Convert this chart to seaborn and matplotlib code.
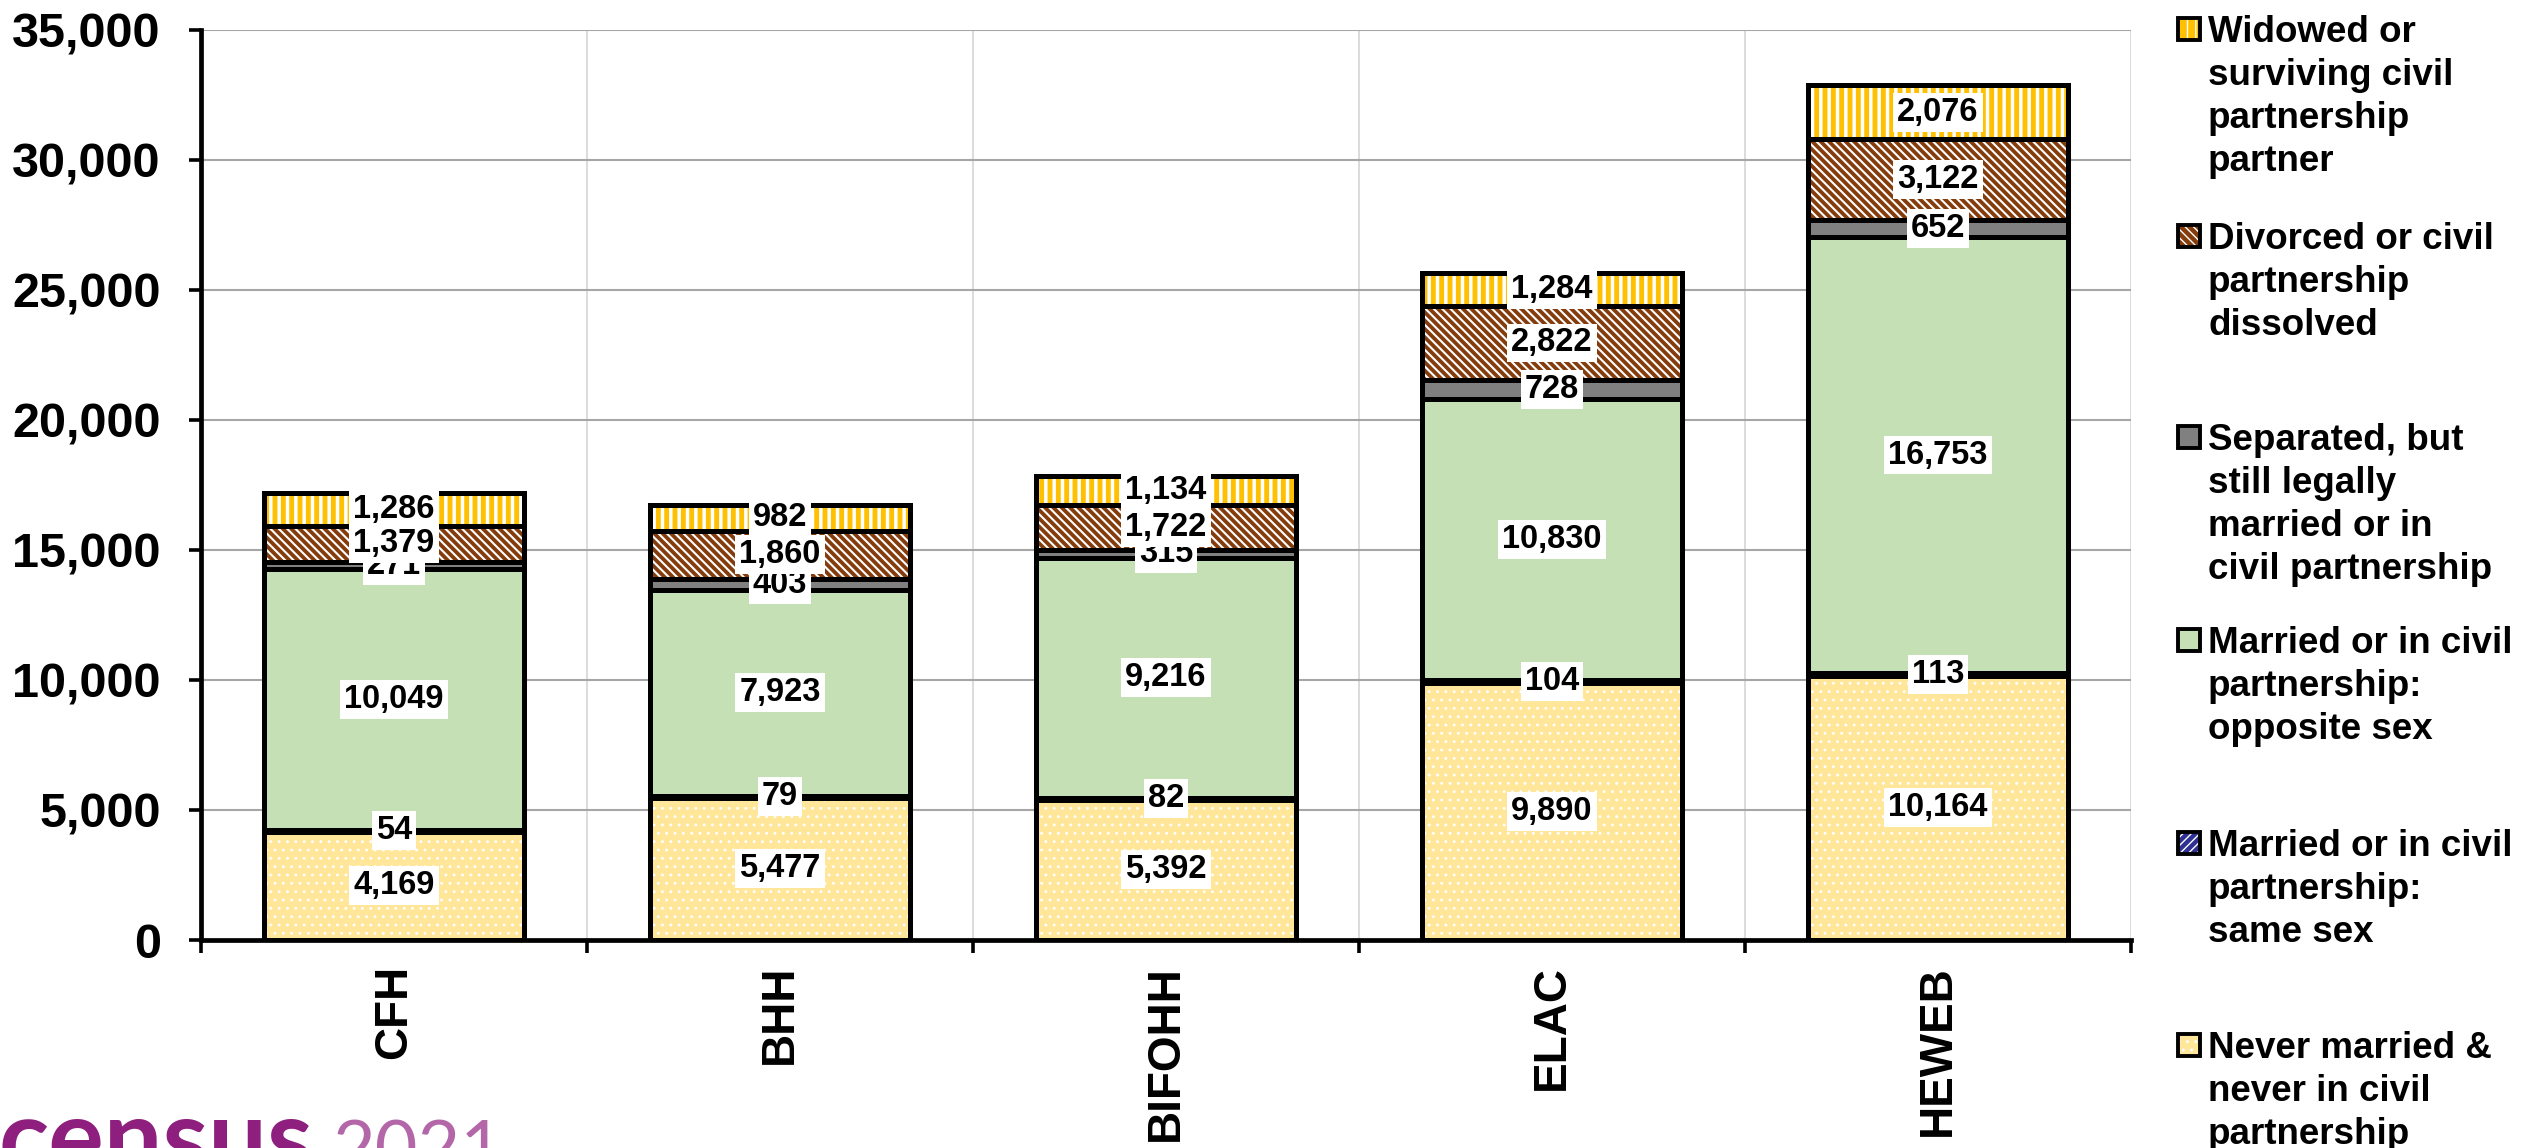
import numpy as np
import pandas as pd
import matplotlib
matplotlib.use("Agg")
import matplotlib.pyplot as plt
import seaborn as sns
from matplotlib.patches import Rectangle
from matplotlib.ticker import FuncFormatter

# ---------------- data ----------------
categories = ["CFH", "BHH", "BIFOHH", "ELAC", "HEWEB"]
never_married = [4169, 5477, 5392, 9890, 10164]
married_same_sex = [54, 79, 82, 104, 113]
married_opposite_sex = [10049, 7923, 9216, 10830, 16753]
separated = [271, 403, 315, 728, 652]
divorced = [1379, 1860, 1722, 2822, 3122]
widowed = [1286, 982, 1134, 1284, 2076]
series_labels = [
    "Never married &\nnever in civil\npartnership",
    "Married or in civil\npartnership:\nsame sex",
    "Married or in civil\npartnership:\nopposite sex",
    "Separated, but\nstill legally\nmarried or in\ncivil partnership",
    "Divorced or civil\npartnership\ndissolved",
    "Widowed or\nsurviving civil\npartnership\npartner",
]
y_ticks = [0, 5000, 10000, 15000, 20000, 25000, 30000, 35000]

series_values = [never_married, married_same_sex, married_opposite_sex,
                 separated, divorced, widowed]
# style per series: face colour, hatch, hatch colour, hatch linewidth
styles = [
    ("#FFE699", "..", "white", 0.9),
    ("#2E3192", "////", "white", 1.6),
    ("#C5E0B4", None, "#C5E0B4", 1.0),
    ("#808080", None, "#808080", 1.0),
    ("#843C0C", "\\\\\\\\", "white", 1.5),
    ("#FFC000", "||", "white", 2.5),
]

# ---------------- figure ----------------
sns.set_theme(style="white")
plt.rcParams["font.family"] = ["Liberation Sans", "DejaVu Sans"]
plt.rcParams["font.weight"] = "bold"

W, H = 2522, 1148
fig = plt.figure(figsize=(W / 100, H / 100), dpi=100)
ax = fig.add_axes([201 / W, 1 - 940 / H, (2131 - 201) / W, (940 - 30) / H])

vals = np.array(series_values, dtype=float)
tops = np.cumsum(vals, axis=0)
bottoms = tops - vals
bar_w = 0.674

# fills: draw cumulative bars from the top layer down so lower layers cover
for i in range(len(series_values) - 1, -1, -1):
    face, hatch, hcol, hlw = styles[i]
    plt.rcParams["hatch.linewidth"] = hlw
    df = pd.DataFrame({"cat": categories, "top": tops[i]})
    sns.barplot(data=df, x="cat", y="top", order=categories, ax=ax,
                color=face, saturation=1, width=bar_w, hatch=hatch,
                edgecolor=hcol, linewidth=0, errorbar=None, zorder=2)

# outlines
for i in range(len(series_values)):
    df = pd.DataFrame({"cat": categories, "top": tops[i]})
    sns.barplot(data=df, x="cat", y="top", order=categories, ax=ax,
                color="black", fill=False, width=bar_w, linewidth=3.6,
                errorbar=None, zorder=3)

# data labels
for i in range(len(series_values)):
    for j in range(len(categories)):
        v = vals[i, j]
        ax.text(j, bottoms[i, j] + v / 2, f"{int(v):,}", ha="center",
                va="center", fontsize=23.5, fontweight="bold", color="black",
                zorder=5,
                bbox=dict(boxstyle="square,pad=0.12", fc="white", ec="none"))

# axes styling
ax.set_xlim(-0.5, len(categories) - 0.5)
ax.set_ylim(0, 35000)
ax.set_yticks(y_ticks)
ax.yaxis.set_major_formatter(FuncFormatter(lambda x, p: f"{int(x):,}"))
ax.set_xlabel("")
ax.set_ylabel("")
ax.set_xticks(range(len(categories)))
ax.set_xticklabels(categories, rotation=90, fontweight="bold")
ax.set_xticks(np.arange(-0.5, len(categories), 1), minor=True)
ax.tick_params(axis="x", which="major", length=0, pad=18, labelsize=33,
               colors="black")
ax.tick_params(axis="x", which="minor", length=9, width=2.6, direction="out",
               color="black", bottom=True)
ax.tick_params(axis="y", which="major", length=9, width=2.6, direction="out",
               pad=20, labelsize=35, colors="black", left=True)
for lab in ax.get_yticklabels():
    lab.set_fontweight("bold")
ax.set_axisbelow(True)
ax.yaxis.grid(True, color="#A6A6A6", linewidth=1.5, zorder=0)
ax.xaxis.grid(True, which="minor", color="#D9D9D9", linewidth=1.3, zorder=0)
ax.xaxis.grid(False, which="major")
for s in ["top", "right"]:
    ax.spines[s].set_visible(False)
for s in ["left", "bottom"]:
    ax.spines[s].set_color("black")
    ax.spines[s].set_linewidth(3.4)
    ax.spines[s].set_zorder(6)

# ---------------- legend (manual) ----------------
legend_line1_y = [1045, 843, 640, 437, 236, 29]  # pixel centers of first line
sq = 22
for i in range(len(series_values)):
    face, hatch, hcol, hlw = styles[i]
    cy = legend_line1_y[i]
    x0 = 2178 / W
    y0 = 1 - (cy + sq / 2) / H
    plt.rcParams["hatch.linewidth"] = 1.0
    fig.add_artist(Rectangle((x0, y0), sq / W, sq / H, transform=fig.transFigure,
                             facecolor=face, hatch=hatch, edgecolor=hcol,
                             linewidth=0))
    fig.add_artist(Rectangle((x0, y0), sq / W, sq / H, transform=fig.transFigure,
                             fill=False, edgecolor="black", linewidth=2.8))
    fig.text(2208 / W, 1 - (cy - 14) / H, series_labels[i], ha="left", va="top",
             fontsize=26.5, fontweight="bold", color="black", linespacing=1.3)

# ---------------- census logo (cropped at bottom) ----------------
fig.text(-2 / W, 1 - 1173 / H, "census", fontsize=75, fontweight="bold",
         color="#8E1F7E", ha="left", va="baseline", family=["Lato", "DejaVu Sans"])
fig.text(333 / W, 1 - 1173 / H, "2021", fontsize=53, fontweight="normal",
         color="#B366A8", ha="left", va="baseline", family=["Lato", "DejaVu Sans"])

fig.savefig("out.png", dpi=100)
